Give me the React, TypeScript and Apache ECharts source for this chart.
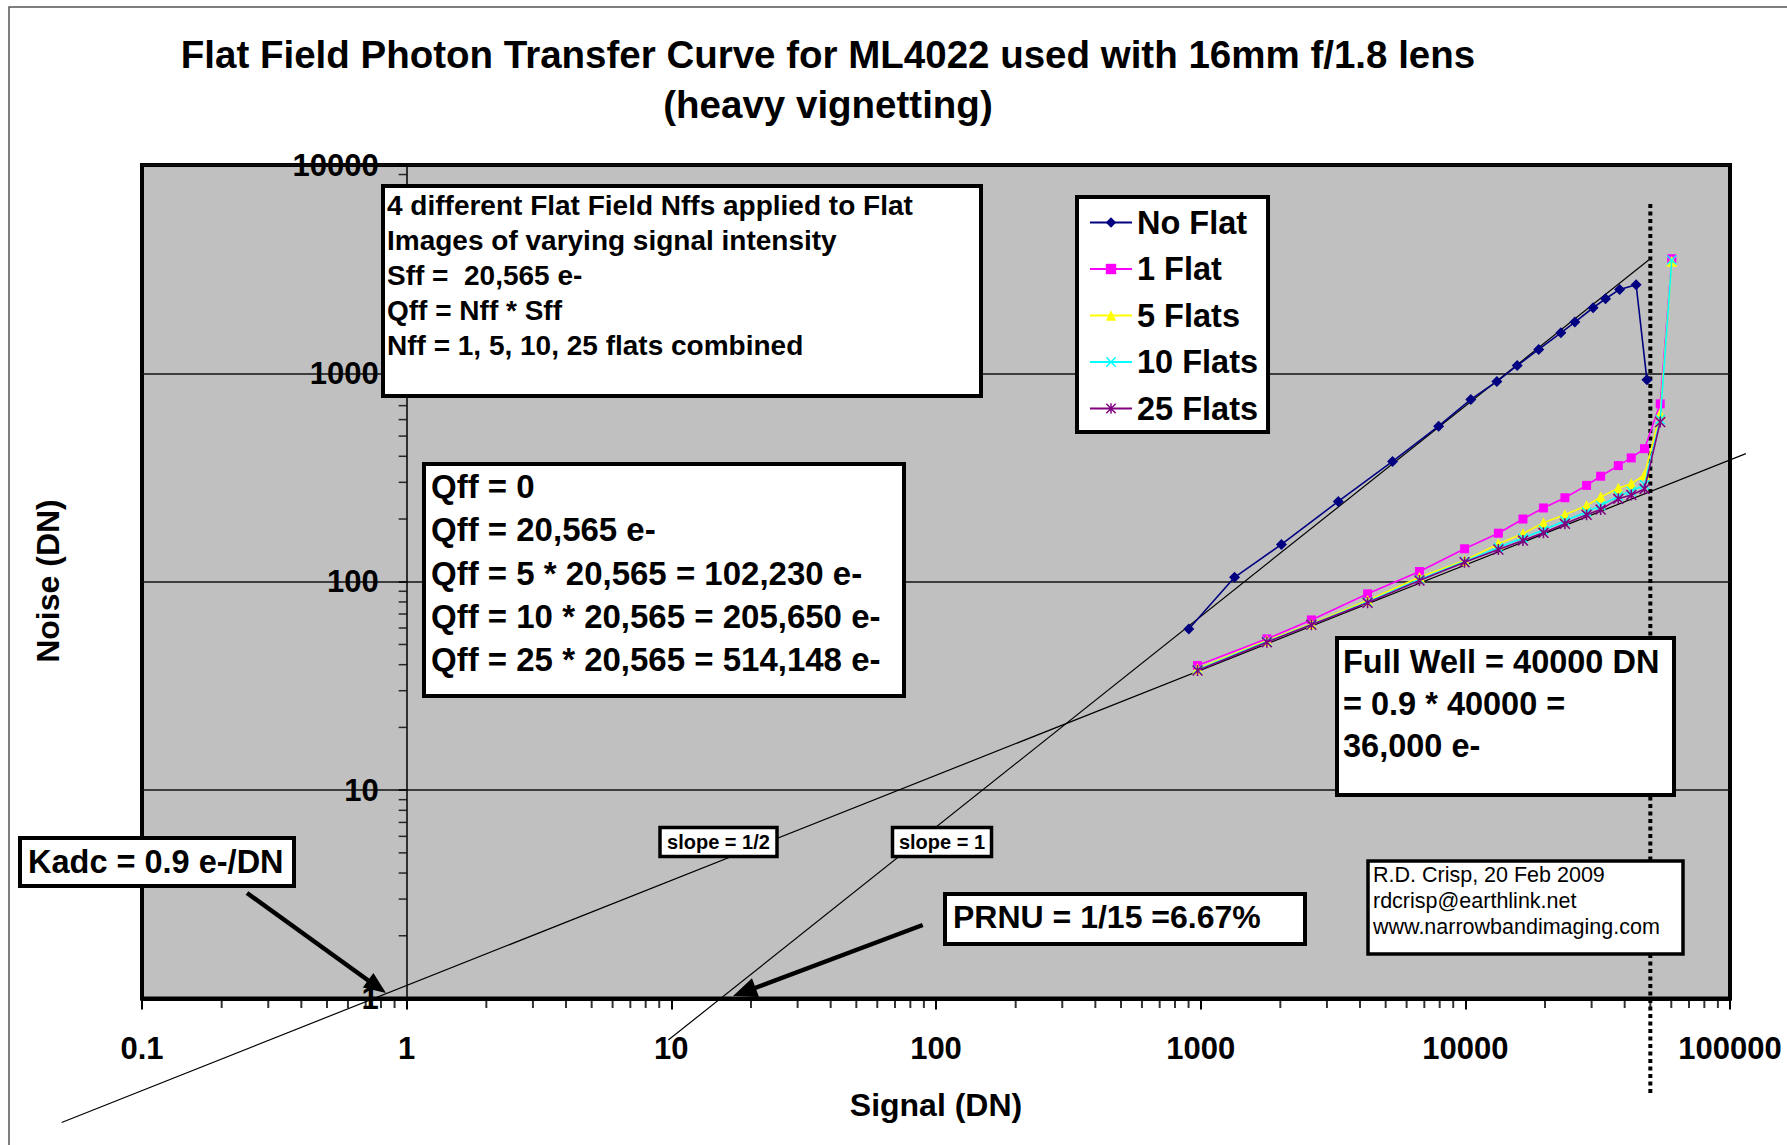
import React, { useEffect, useRef } from 'react';
import * as echarts from 'echarts';

const FONT = '"Liberation Sans", Arial, Helvetica, sans-serif';

// ---- data ----
const seriesNames = ['No Flat', '1 Flat', '5 Flats', '10 Flats', '25 Flats'];
const seriesColors = ['#000080', '#FF00FF', '#FFFF00', '#00FFFF', '#800080'];

const noFlatSignal = [902, 1343, 2019, 3311, 5309, 7925, 10490, 13160, 15700, 18930, 22960, 25940, 30390, 33880, 38280, 44190, 48540];
const noFlatNoise = [59.3, 105, 151, 243, 378, 558, 750, 914, 1091, 1303, 1566, 1763, 2065, 2281, 2529, 2663, 931];

const flatSignal = [973, 1779, 2620, 4273, 6709, 9935, 13330, 16510, 19730, 23780, 28720, 32460, 37840, 42350, 47540, 54490, 60260];
const oneFlatNoise = [39.6, 53.2, 65.6, 87.5, 112, 144, 171, 200, 226, 253, 290, 321, 361, 393, 435, 714, 3549];
const fiveFlatsNoise = [38.2, 52.2, 62.8, 81.3, 105.2, 126.4, 152, 170, 192, 209.5, 232, 255, 281, 295, 326, 640, 3450];
const tenFlatsNoise = [37.8, 51.7, 62.4, 80.0, 102.5, 125, 146, 162, 177, 196, 216, 232, 258, 272, 292, 600, 3500];
const twentyFiveFlatsNoise = [37.5, 51.3, 62.1, 79.2, 101.4, 124.2, 142.8, 157.7, 171.8, 189.7, 209.5, 222, 250, 261, 279, 584];

// reference lines (signal, noise)
const slopeHalfLine = [[0.0497, 0.254], [114800, 412]];
const slopeOneLine = [[9.74, 0.632], [49300, 3499]];
const fullWellLine = [[50000, 0.352], [50000, 6560]];

// axes
const xTickLabels = ['0.1', '1', '10', '100', '1000', '10000', '100000'];
const yTickLabels = ['1', '10', '100', '1000', '10000'];
const xDecades = [0.1, 1, 10, 100, 1000, 10000];
const yDecades = [1, 10, 100, 1000];
const tickMultipliers = [2, 3, 4, 5, 6, 7, 8, 9];

// ---- layout ----
const GRID = { left: 142, top: 165, width: 1588, height: 833.5 };
const XDEC = GRID.width / 6;
const YDEC = GRID.height / 4;
// same scale, one extra decade on every side (for annotation lines running past the plot)
const GRID_EXT = { left: GRID.left - XDEC, top: GRID.top - YDEC, width: XDEC * 8, height: YDEC * 6 };

const SYM_X = 'path://M0,1L1,0L10,9L9,10Z M9,0L10,1L1,10L0,9Z';
const SYM_STAR = 'path://M0,1L1,0L10,9L9,10Z M9,0L10,1L1,10L0,9Z M4.3,0L5.7,0L5.7,10L4.3,10Z';

function zip(xs: number[], ys: number[]) {
  return ys.map((y, i) => [xs[i], y]);
}

function box(x: number, y: number, w: number, h: number, lw = 4) {
  return {
    type: 'rect', z: 50,
    shape: { x, y, width: w, height: h },
    style: { fill: '#fff', stroke: '#000', lineWidth: lw },
  };
}

function txt(text: string, x: number, y: number, size: number, opts: any = {}) {
  return {
    type: 'text', z: 51, x, y,
    rotation: opts.rotation || 0,
    style: {
      text,
      fill: '#000',
      fontSize: size,
      fontWeight: opts.weight || 'bold',
      fontFamily: FONT,
      lineHeight: opts.lineHeight || size * 1.2,
      textAlign: opts.align || 'left',
      align: opts.align || 'left',
      textVerticalAlign: opts.valign || 'top',
      verticalAlign: opts.valign || 'top',
    },
  };
}

function logIdx(v: number, base: number) {
  return Math.round(Math.log10(v / base));
}

const seriesSymbols = ['diamond', 'rect', 'triangle', SYM_X, SYM_STAR];
const seriesSizes = [11, 9, 11, 10, 11];
const seriesData = [
  zip(noFlatSignal, noFlatNoise),
  zip(flatSignal, oneFlatNoise),
  zip(flatSignal, fiveFlatsNoise),
  zip(flatSignal, tenFlatsNoise),
  zip(flatSignal, twentyFiveFlatsNoise),
];

const xMinor = xDecades.flatMap((d) => tickMultipliers.map((m) => [m * d, 1]));
const yMinor = yDecades.flatMap((d) => tickMultipliers.map((m) => [1, m * d]));

const refLine = (data: number[][], width: number, type: any = 'solid') => ({
  type: 'line', data, symbol: 'none', clip: false, silent: true, z: 1,
  xAxisIndex: 1, yAxisIndex: 1,
  lineStyle: { color: '#000', width, type },
  itemStyle: { color: '#000' },
});

const labelStyle = { fontSize: 31, fontWeight: 'bold', color: '#000', fontFamily: FONT };

const option: any = {
  animation: false,
  backgroundColor: '#ffffff',
  textStyle: { fontFamily: FONT },
  grid: [
    { ...GRID, show: true, backgroundColor: '#C0C0C0', borderColor: '#000', borderWidth: 4, outerBoundsMode: 'none', containLabel: false },
    { ...GRID_EXT, show: false, outerBoundsMode: 'none', containLabel: false },
  ],
  legend: {
    data: seriesNames,
    orient: 'vertical',
    left: 1077, top: 197,
    backgroundColor: '#fff', borderColor: '#000', borderWidth: 4,
    padding: [9, 10, 7, 12],
    itemWidth: 42, itemHeight: 13, itemGap: 13.5,
    textStyle: { fontSize: 32.5, fontWeight: 'bold', color: '#000', fontFamily: FONT },
  },
  xAxis: [
    {
      type: 'log', logBase: 10, min: 0.1, max: 100000, gridIndex: 0,
      axisLine: { show: true, lineStyle: { color: '#000', width: 4 } },
      axisTick: { show: true, length: 11, lineStyle: { color: '#000', width: 2 } },
      splitLine: { show: false },
      axisLabel: {
        margin: 34, ...labelStyle,
        formatter: (v: number) => xTickLabels[logIdx(v, 0.1)] ?? String(v),
      },
      name: 'Signal (DN)', nameLocation: 'middle', nameGap: 90,
      nameTextStyle: { fontSize: 32, fontWeight: 'bold', color: '#000', fontFamily: FONT },
    },
    { type: 'log', logBase: 10, min: 0.01, max: 1000000, gridIndex: 1, show: false },
  ],
  yAxis: [
    {
      type: 'log', logBase: 10, min: 1, max: 10000, gridIndex: 0,
      offset: -XDEC,
      axisLine: { show: true, lineStyle: { color: '#000', width: 1.5 } },
      axisTick: { show: true, length: 8, lineStyle: { color: '#000', width: 1.5 } },
      splitLine: { show: true, lineStyle: { color: '#111', width: 1.5 } },
      axisLabel: {
        margin: 28, ...labelStyle,
        formatter: (v: number) => yTickLabels[logIdx(v, 1)] ?? String(v),
      },
    },
    { type: 'log', logBase: 10, min: 0.1, max: 100000, gridIndex: 1, show: false },
  ],
  series: [
    refLine(slopeHalfLine, 1.2),
    refLine(slopeOneLine, 1.2),
    refLine(fullWellLine, 4, [4, 3.5]),
    {
      type: 'scatter', data: xMinor, symbol: 'rect', symbolSize: [2, 9], symbolOffset: [0, 5],
      itemStyle: { color: '#000' }, clip: false, silent: true, z: 5,
    },
    {
      type: 'scatter', data: yMinor, symbol: 'rect', symbolSize: [8, 1.5], symbolOffset: [-4, 0],
      itemStyle: { color: '#000' }, clip: false, silent: true, z: 5,
    },
    ...seriesNames.map((name, i) => ({
      name, type: 'line', data: seriesData[i],
      symbol: seriesSymbols[i], symbolSize: seriesSizes[i], showSymbol: true,
      lineStyle: { color: seriesColors[i], width: 1.6 },
      itemStyle: { color: seriesColors[i] },
      z: 3 + i,
    })),
  ],
  graphic: [
    // outer frame
    { type: 'rect', z: 0, shape: { x: 9, y: 7, width: 1800, height: 1200 }, style: { fill: 'none', stroke: '#555', lineWidth: 1.5 } },
    // title
    txt('Flat Field Photon Transfer Curve for ML4022 used with 16mm f/1.8 lens\n(heavy vignetting)', 828, 29, 38.5, { align: 'center', lineHeight: 50 }),
    // y axis name
    txt('Noise (DN)', 48, 581, 32, { align: 'center', valign: 'middle', rotation: Math.PI / 2 }),
    // info box
    box(383, 186, 598, 210),
    txt('4 different Flat Field Nffs applied to Flat\nImages of varying signal intensity\nSff =  20,565 e-\nQff = Nff * Sff\nNff = 1, 5, 10, 25 flats combined', 387, 188, 28, { lineHeight: 35 }),
    // Qff box
    box(424, 464, 480, 232),
    txt('Qff = 0\nQff = 20,565 e-\nQff = 5 * 20,565 = 102,230 e-\nQff = 10 * 20,565 = 205,650 e-\nQff = 25 * 20,565 = 514,148 e-', 431, 465, 33, { lineHeight: 43.3 }),
    // Full well box
    box(1337, 638, 337, 157),
    txt('Full Well = 40000 DN\n= 0.9 * 40000 =\n36,000 e-', 1343, 641, 32.5, { lineHeight: 42 }),
    // Kadc box
    box(20, 838, 274, 48),
    txt('Kadc = 0.9 e-/DN', 28, 862, 32.5, { valign: 'middle' }),
    // PRNU box
    box(945, 894, 360, 50),
    txt('PRNU = 1/15 =6.67%', 953, 917, 32, { valign: 'middle' }),
    // credit box
    box(1368, 861, 315, 93, 3.5),
    txt('R.D. Crisp, 20 Feb 2009\nrdcrisp@earthlink.net\nwww.narrowbandimaging.com', 1373, 862.5, 21.5, { weight: 'normal', lineHeight: 25.6 }),
    // slope boxes
    box(660, 827.5, 117, 29, 3.5),
    txt('slope = 1/2', 718.5, 842, 20, { align: 'center', valign: 'middle' }),
    box(892.5, 827.5, 99, 29, 3.5),
    txt('slope = 1', 942, 842, 20, { align: 'center', valign: 'middle' }),
    // Kadc arrow
    { type: 'polyline', z: 52, shape: { points: [[247, 893], [369, 981]] }, style: { stroke: '#000', lineWidth: 4.5, fill: 'none' } },
    { type: 'polygon', z: 52, shape: { points: [[386, 993], [362.8, 987.5], [373.4, 972.9]] }, style: { fill: '#000' } },
    // PRNU arrow
    { type: 'polyline', z: 52, shape: { points: [[922.7, 925], [755, 988]] }, style: { stroke: '#000', lineWidth: 4.5, fill: 'none' } },
    { type: 'polygon', z: 52, shape: { points: [[733, 996], [752, 978.2], [759, 997]] }, style: { fill: '#000' } },
  ],
};

export default function App() {
  const ref = useRef<HTMLDivElement>(null);
  useEffect(() => {
    const chart = echarts.init(ref.current!, undefined, { renderer: 'svg' });
    chart.setOption(option);
    return () => chart.dispose();
  }, []);
  return (
    <div
      ref={ref}
      style={{ position: 'absolute', left: 0, top: 0, width: 1787, height: 1145, background: '#fff' }}
    />
  );
}
